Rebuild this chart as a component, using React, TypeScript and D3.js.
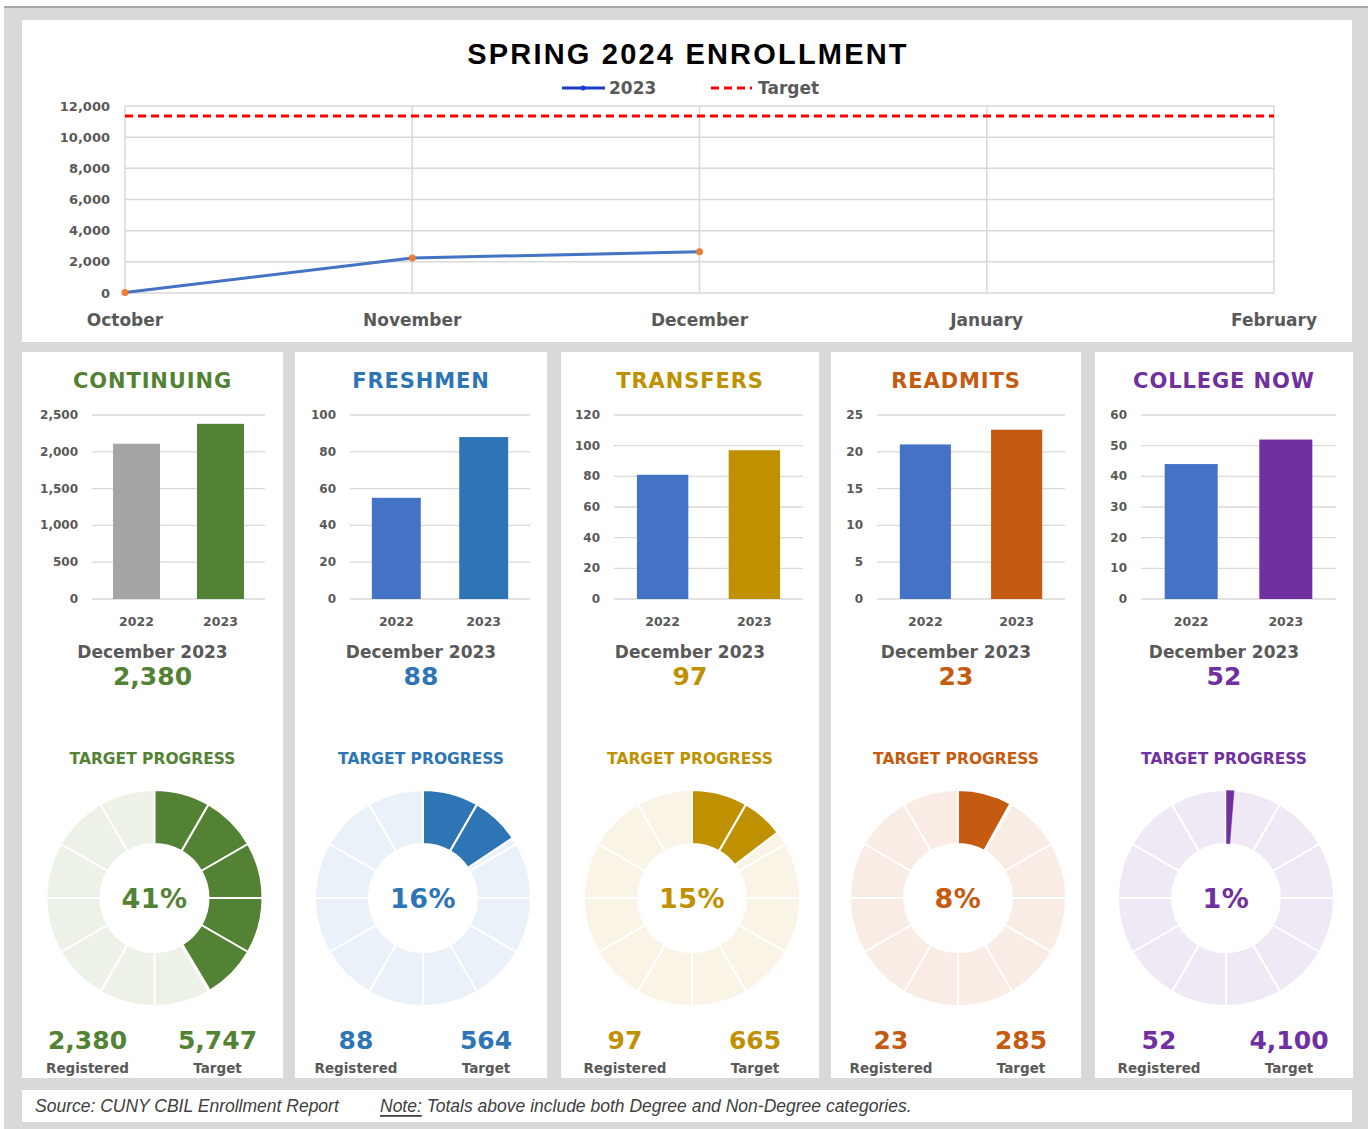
import React from "react";
import * as d3 from "d3";

// ---------- DATA ----------
const months = ["October", "November", "December", "January", "February"];
const enrollment2023 = [30, 2250, 2640];
const topTicks = [0, 2000, 4000, 6000, 8000, 10000, 12000];

const categories = ["CONTINUING", "FRESHMEN", "TRANSFERS", "READMITS", "COLLEGE NOW"];
const years = ["2022", "2023"];
const count2022 = [2110, 55, 81, 21, 44];
const count2023 = [2380, 88, 97, 23, 52];
const targets = [5747, 564, 665, 285, 4100];
const axisMax = [2500, 100, 120, 25, 60];
const axisStep = [500, 20, 20, 5, 10];
const reportMonth = "December 2023";

// ---------- STYLE / LAYOUT ----------
const mainColor = ["#548235", "#2e75b6", "#bf9000", "#c55a11", "#7030a0"];
const color2022 = ["#a5a5a5", "#4472c4", "#4472c4", "#4472c4", "#4472c4"];
const lightColor = ["#edf2e9", "#eaf1f9", "#faf4e6", "#f8ece5", "#efe9f5"];
const panelX = [22, 295, 561, 831, 1095];
const panelW = [261, 252, 258, 250, 258];
const gridL = [92, 350, 614, 877, 1141];
const gridR = [265, 530, 803, 1065, 1336];

const GRAY = "#595959";
const BOLD = "'DejaVu Sans', sans-serif";
const fmt = d3.format(",");

function TopChart() {
  const x = d3.scalePoint<string>().domain(months).range([125, 1274]);
  const y = d3.scaleLinear().domain([0, 12000]).range([293, 106]);
  const targetTotal = d3.sum(targets);
  const line = d3
    .line<number>()
    .x((_, i) => x(months[i]) as number)
    .y((d) => y(d));
  return (
    <g>
      <rect x={22} y={20} width={1330} height={322} fill="#fff" />
      <text x={688} y={54} textAnchor="middle" dominantBaseline="central"
        fontFamily="'Liberation Sans', Arial, sans-serif" fontWeight="bold" fontSize={29} letterSpacing={2.2} fill="#000">
        SPRING 2024 ENROLLMENT
      </text>
      {/* legend */}
      <line x1={562} x2={605} y1={88} y2={88} stroke="#1a3ccc" strokeWidth={3} />
      <circle cx={583} cy={88} r={2.5} fill="#1a3ccc" />
      <text x={609} y={88} dominantBaseline="central" fontFamily={BOLD} fontWeight="bold" fontSize={17} fill={GRAY}>2023</text>
      <line x1={711} x2={752} y1={88} y2={88} stroke="#ff0000" strokeWidth={3} strokeDasharray="8,5" />
      <text x={758} y={88} dominantBaseline="central" fontFamily={BOLD} fontWeight="bold" fontSize={17} fill={GRAY}>Target</text>
      {/* grid */}
      {topTicks.map((t) => (
        <g key={t}>
          <line x1={125} x2={1274} y1={y(t)} y2={y(t)} stroke="#d9d9d9" strokeWidth={1.5} />
          <text x={110} y={y(t)} textAnchor="end" dominantBaseline="central" fontFamily={BOLD} fontWeight="bold" fontSize={13} fill={GRAY}>
            {fmt(t)}
          </text>
        </g>
      ))}
      {months.map((m) => (
        <g key={m}>
          <line x1={x(m)} x2={x(m)} y1={106} y2={293} stroke="#d9d9d9" strokeWidth={1.5} />
          <text x={x(m)} y={320} textAnchor="middle" dominantBaseline="central" fontFamily={BOLD} fontWeight="bold" fontSize={17} fill={GRAY}>
            {m}
          </text>
        </g>
      ))}
      <line x1={125} x2={1274} y1={y(targetTotal)} y2={y(targetTotal)} stroke="#ff0000" strokeWidth={3} strokeDasharray="8,5" />
      <path d={line(enrollment2023) || ""} fill="none" stroke="#4472c4" strokeWidth={3} />
      {enrollment2023.map((v, i) => (
        <circle key={i} cx={x(months[i])} cy={y(v)} r={3.5} fill="#ed7d31" />
      ))}
    </g>
  );
}

function Panel({ i }: { i: number }) {
  const px = panelX[i];
  const pw = panelW[i];
  const cx = px + pw / 2;
  const c = mainColor[i];
  const y = d3.scaleLinear().domain([0, axisMax[i]]).range([599, 415]);
  const x = d3.scaleBand<string>().domain(years).range([gridL[i], gridR[i]]).paddingInner(0.44).paddingOuter(0.25);
  const ticks = d3.range(0, axisMax[i] + axisStep[i] / 2, axisStep[i]);
  const vals = [count2022[i], count2023[i]];
  const barColors = [color2022[i], c];

  const reg = count2023[i];
  const tgt = targets[i];
  const frac = reg / tgt;
  const pct = Math.round(frac * 100);
  const dcx = cx + 2;
  const dcy = 898;
  const arc = d3.arc<any>().innerRadius(54).outerRadius(108);
  const seg = (Math.PI * 2) / 12;
  const endA = frac * Math.PI * 2;
  const segments = d3.range(12);

  return (
    <g>
      <rect x={px} y={352} width={pw} height={726} fill="#fff" />
      <text x={cx} y={381} textAnchor="middle" dominantBaseline="central" fontFamily={BOLD} fontWeight="bold" fontSize={21} letterSpacing={0.9} fill={c}>
        {categories[i]}
      </text>
      {ticks.map((t) => (
        <g key={t}>
          <line x1={gridL[i]} x2={gridR[i]} y1={y(t)} y2={y(t)} stroke="#d9d9d9" strokeWidth={1.3} />
          <text x={gridL[i] - 14} y={y(t)} textAnchor="end" dominantBaseline="central" fontFamily={BOLD} fontWeight="bold" fontSize={12} fill={GRAY}>
            {fmt(t)}
          </text>
        </g>
      ))}
      {years.map((yr, k) => (
        <g key={yr}>
          <rect x={x(yr)} y={y(vals[k])} width={x.bandwidth()} height={599 - y(vals[k])} fill={barColors[k]} />
          <text x={(x(yr) as number) + x.bandwidth() / 2} y={621} textAnchor="middle" dominantBaseline="central" fontFamily={BOLD} fontWeight="bold" fontSize={12.5} fill={GRAY}>
            {yr}
          </text>
        </g>
      ))}
      <text x={cx} y={652} textAnchor="middle" dominantBaseline="central" fontFamily={BOLD} fontWeight="bold" fontSize={17} fill={GRAY}>
        {reportMonth}
      </text>
      <text x={cx} y={676} textAnchor="middle" dominantBaseline="central" fontFamily={BOLD} fontWeight="bold" fontSize={25} fill={c}>
        {fmt(reg)}
      </text>
      <text x={cx} y={759} textAnchor="middle" dominantBaseline="central" fontFamily={BOLD} fontWeight="bold" fontSize={15.5} fill={c}>
        TARGET PROGRESS
      </text>
      <g transform={`translate(${dcx},${dcy})`}>
        {segments.map((s) => (
          <path key={"b" + s} d={arc({ startAngle: s * seg, endAngle: (s + 1) * seg }) || ""} fill={lightColor[i]} stroke="#fff" strokeWidth={2} />
        ))}
        {segments
          .filter((s) => s * seg < endA)
          .map((s) => (
            <path key={"f" + s} d={arc({ startAngle: s * seg, endAngle: Math.min((s + 1) * seg, endA) }) || ""} fill={c} stroke="#fff" strokeWidth={frac < 0.05 ? 0.5 : 2} />
          ))}
      </g>
      <text x={dcx} y={dcy} textAnchor="middle" dominantBaseline="central" fontFamily={BOLD} fontWeight="bold" fontSize={27} letterSpacing={0.5} fill={c}>
        {pct}%
      </text>
      <text x={cx - 65} y={1040} textAnchor="middle" dominantBaseline="central" fontFamily={BOLD} fontWeight="bold" fontSize={25} fill={c}>
        {fmt(reg)}
      </text>
      <text x={cx + 65} y={1040} textAnchor="middle" dominantBaseline="central" fontFamily={BOLD} fontWeight="bold" fontSize={25} fill={c}>
        {fmt(tgt)}
      </text>
      <text x={cx - 65} y={1068} textAnchor="middle" dominantBaseline="central" fontFamily={BOLD} fontWeight="bold" fontSize={13.5} fill={GRAY}>
        Registered
      </text>
      <text x={cx + 65} y={1068} textAnchor="middle" dominantBaseline="central" fontFamily={BOLD} fontWeight="bold" fontSize={13.5} fill={GRAY}>
        Target
      </text>
    </g>
  );
}

export default function App() {
  return (
    <svg width={1368} height={1129} style={{ position: "absolute", left: 0, top: 0 }}>
      <rect x={0} y={0} width={1368} height={1129} fill="#fff" />
      <rect x={4} y={7} width={1364} height={1122} fill="#d9d9d9" />
      <line x1={4} x2={1368} y1={7} y2={7} stroke="#a6a6a6" strokeWidth={2} />
      <TopChart />
      {categories.map((_, i) => (
        <Panel key={i} i={i} />
      ))}
      <rect x={22} y={1090} width={1330} height={32} fill="#fff" />
      <text x={35} y={1106} dominantBaseline="central" fontFamily="'Liberation Sans Narrow', 'Liberation Sans', Arial, sans-serif" fontStyle="italic" fontSize={17.5} fill="#404040">
        Source: CUNY CBIL Enrollment Report
      </text>
      <text x={380} y={1106} dominantBaseline="central" fontFamily="'Liberation Sans Narrow', 'Liberation Sans', Arial, sans-serif" fontStyle="italic" fontSize={17.5} fill="#404040">
        <tspan style={{ textDecoration: "underline" }}>Note:</tspan>
        <tspan> Totals above include both Degree and Non-Degree categories.</tspan>
      </text>
    </svg>
  );
}
